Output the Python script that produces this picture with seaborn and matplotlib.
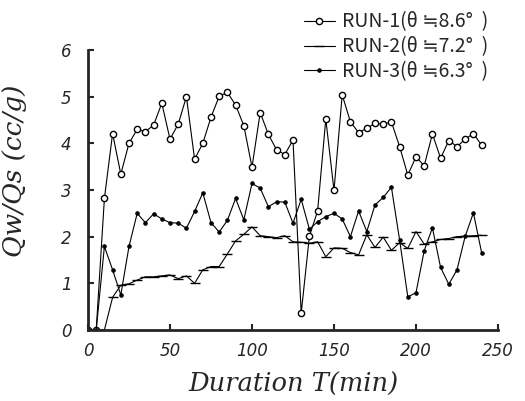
import matplotlib
matplotlib.use("Agg")
import matplotlib.pyplot as plt
import numpy as np
import pandas as pd
import seaborn as sns

# Duration (min) shared by all three runs
duration = list(range(0, 245, 5))

# Qw/Qs
run1 = [0, 0, 2.82, 4.21, 3.34, 4.0, 4.3, 4.25, 4.39, 4.86,
        4.09, 4.41, 5.0, 3.66, 4.0, 4.56, 5.01, 5.09, 4.82, 4.38,
        3.49, 4.66, 4.19, 3.86, 3.76, 4.07, 0.36, 2.01, 2.55, 4.52,
        2.99, 5.04, 4.46, 4.23, 4.32, 4.43, 4.41, 4.46, 3.93, 3.32,
        3.71, 3.52, 4.2, 3.68, 4.06, 3.93, 4.09, 4.21, 3.96]
run2 = [0, 0, 0, 0.70, 0.96, 0.99, 1.07, 1.14, 1.14, 1.16,
        1.18, 1.10, 1.16, 1.0, 1.29, 1.36, 1.36, 1.63, 1.91, 2.05,
        2.21, 2.02, 2.0, 1.98, 2.02, 1.89, 1.88, 1.86, 1.89, 1.57,
        1.76, 1.75, 1.66, 1.61, 2.04, 1.77, 1.99, 1.71, 1.87, 1.75,
        2.11, 1.84, 1.89, 1.94, 1.96, 2.0, 2.01, 2.02, 2.03]
run3 = [0, 0, 1.79, 1.29, 0.75, 1.79, 2.5, 2.3, 2.49, 2.38,
        2.3, 2.29, 2.18, 2.54, 2.94, 2.3, 2.1, 2.35, 2.82, 2.36,
        3.14, 3.04, 2.64, 2.75, 2.74, 2.29, 2.8, 2.16, 2.32, 2.43,
        2.5, 2.38, 2.0, 2.55, 2.11, 2.68, 2.84, 3.06, 1.93, 0.71,
        0.8, 1.7, 2.19, 1.34, 0.98, 1.29, 2.01, 2.51, 1.66]

labels = ["RUN-1(θ ≒8.6°  )", "RUN-2(θ ≒7.2°  )", "RUN-3(θ ≒6.3°  )"]

sns.set_style("ticks")
plt.rcParams['font.family'] = ['DejaVu Sans']

fig = plt.figure(figsize=(5.25, 4.01), dpi=100)
ax = fig.add_axes([88 / 525, 1 - 330 / 401, 410 / 525, 280 / 401])

df = pd.DataFrame({'T': duration, 'r1': run1, 'r2': run2, 'r3': run3})

sns.lineplot(data=df, x='T', y='r1', ax=ax, color='black', lw=0.8,
             marker='o', markersize=4.5, markerfacecolor='white',
             markeredgecolor='black', markeredgewidth=1.0, label=labels[0])
sns.lineplot(data=df, x='T', y='r2', ax=ax, color='black', lw=0.8,
             marker='_', markersize=7, markeredgecolor='black',
             markeredgewidth=1.0, label=labels[1])
sns.lineplot(data=df, x='T', y='r3', ax=ax, color='black', lw=0.8,
             marker='o', markersize=2.5, markerfacecolor='black',
             markeredgecolor='black', label=labels[2])

ax.set_xlim(0, 250)
ax.set_ylim(0, 6)
ax.set_xticks([0, 50, 100, 150, 200, 250])
ax.set_yticks(range(7))
for s in ['top', 'right']:
    ax.spines[s].set_visible(False)
for s in ['left', 'bottom']:
    ax.spines[s].set_linewidth(2)
ax.tick_params(axis='x', direction='in', length=4, width=1.5, pad=9, labelsize=12)
ax.tick_params(axis='y', direction='in', length=4, width=1.5, pad=12, labelsize=12)
for t in ax.get_xticklabels() + ax.get_yticklabels():
    t.set_fontstyle('italic')

ax.set_xlabel('Duration T(min)', family='DejaVu Serif', style='italic',
              fontsize=18.5, labelpad=8)
ax.set_ylabel('Qw/Qs (cc/g)', family='DejaVu Serif', style='italic',
              fontsize=19)
ax.yaxis.set_label_coords(-0.148, 0.57)

leg = ax.legend(loc='upper right', bbox_to_anchor=(1.02, 1.2), frameon=False,
                handlelength=1.6, handletextpad=0.4, labelspacing=0.2,
                prop={'family': ['Noto Sans CJK JP', 'DejaVu Sans'], 'size': 14})

fig.savefig('out.png', dpi=100)
